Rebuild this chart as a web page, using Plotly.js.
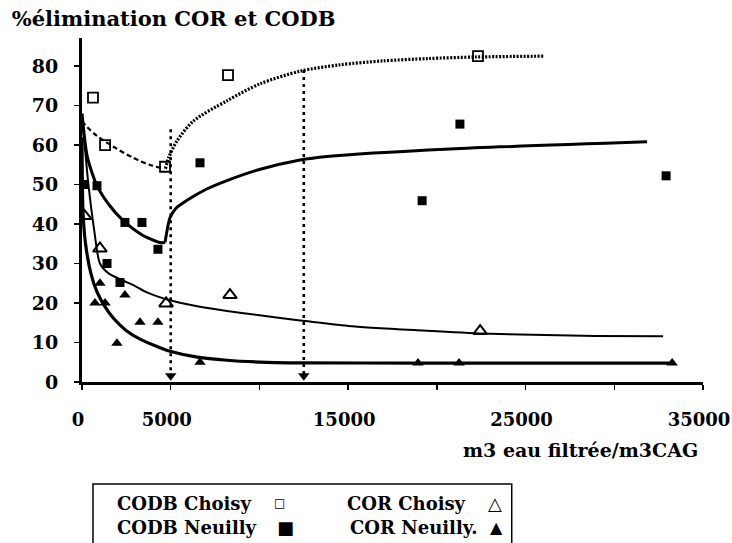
<!DOCTYPE html>
<html>
<head>
<meta charset="utf-8">
<script src="https://cdn.plot.ly/plotly-3.0.1.min.js"></script>
<style>html,body{margin:0;padding:0;background:#fff;}#chart{width:732px;height:543px;}</style>
</head>
<body>
<div id="chart"></div>
<script>
// ---------- data ----------
// measured points
var codbChoisyX = [620, 1300, 4680, 8230, 22320];
var codbChoisyY = [72, 60, 54.5, 77.7, 82.5];

var codbNeuillyX = [100, 845, 1410, 2140, 2420, 3380, 4280, 6650, 19170, 21300, 32920];
var codbNeuillyY = [50, 49.7, 30, 25.2, 40.4, 40.4, 33.6, 55.5, 45.9, 65.3, 52.2];

var corChoisyX = [150, 1010, 4740, 8340, 22440];
var corChoisyY = [42, 33.8, 19.9, 22, 12.9];

var corNeuillyX = [0, 730, 1010, 1300, 1970, 2420, 3270, 4280, 6650, 18940, 21250, 33260];
var corNeuillyY = [50, 20, 25, 20, 9.8, 22, 15.1, 15.1, 5, 4.8, 4.8, 4.8];

// trend curves
var codbChoisyFitAX = [0, 300, 845, 1800, 2870, 3800, 4600];
var codbChoisyFitAY = [66, 64.5, 62.3, 59.5, 56.8, 55, 54];
var codbChoisyFitBX = [4700, 4900, 5350, 6260, 8170, 10030, 12290, 14500, 16970, 19500, 22270, 26000];
var codbChoisyFitBY = [54, 57, 61, 66, 71.2, 75.5, 78.7, 80.3, 81.3, 81.9, 82.3, 82.5];

var codbNeuillyFitAX = [0, 300, 845, 1500, 2310, 3440, 4400, 4680];
var codbNeuillyFitAY = [68, 57, 49.7, 45, 40.9, 37.1, 35.3, 35.3];
var codbNeuillyFitBX = [4680, 4960, 5300, 5920, 7000, 8170, 10000, 12290, 13800, 20740, 31850];
var codbNeuillyFitBY = [35.3, 41.6, 44, 46, 48.8, 51, 53.8, 56.2, 57.1, 59, 60.8];

var corChoisyFitX = [0, 150, 338, 700, 1010, 1500, 2310, 3000, 3660, 4960, 6500, 8170, 10000, 12290, 15000, 18880, 22440, 28240, 32750];
var corChoisyFitY = [66, 60, 51, 38, 30, 27.5, 25.7, 24.3, 22.7, 20.7, 19.2, 18, 16.9, 15.6, 14.2, 13.1, 12.3, 11.7, 11.6];

var corNeuillyFitX = [0, 56, 200, 500, 845, 1300, 1800, 2500, 3300, 4400, 4960, 6500, 8170, 10000, 12290, 18940, 25000, 33260];
var corNeuillyFitY = [62, 43, 35, 27.5, 22.8, 19, 16, 13, 10.8, 8.7, 7.8, 6.3, 5.5, 5.05, 4.85, 4.8, 4.8, 4.8];

// vertical guide lines (breakthrough volumes)
var guideX = [5000, 12500];
var guideTop = [64, 79];
var guideBottom = [1.6, 1.6];

// axis ticks
var xTickVals = [0, 5000, 15000, 25000, 35000];
var xTickText = ['0', '5000', '15000', '25000', '35000'];
var yTickVals = [0, 10, 20, 30, 40, 50, 60, 70, 80];

// texts
var titleText = '%élimination COR et CODB';
var xTitleText = 'm3 eau filtrée/m3CAG';
var legendNames = ['CODB Choisy', 'CODB Neuilly', 'COR Choisy', 'COR Neuilly.'];
var legendSymbols = ['\u25A1', '\u25A0', '\u25B3', '\u25B2'];

// ---------- drawing ----------
var FONT = 'DejaVu Serif';
var BLACK = '#000';
var traces = [];

function curve(x, y, width, dash, smooth) {
  return {x: x, y: y, type: 'scatter', mode: 'lines', showlegend: false, hoverinfo: 'skip',
          line: {color: BLACK, width: width, dash: dash, shape: 'spline', smoothing: smooth}};
}
traces.push(curve(codbChoisyFitAX, codbChoisyFitAY, 2.2, '5px,3px', 0.8));
traces.push(curve(codbChoisyFitBX, codbChoisyFitBY, 3.2, '2px,1.5px', 0.8));
traces.push(curve(codbNeuillyFitAX, codbNeuillyFitAY, 3, 'solid', 0.7));
traces.push(curve(codbNeuillyFitBX, codbNeuillyFitBY, 3, 'solid', 0.7));
traces.push(curve(corChoisyFitX, corChoisyFitY, 2, 'solid', 0.7));
traces.push(curve(corNeuillyFitX, corNeuillyFitY, 3.2, 'solid', 0.7));

// guides
for (var i = 0; i < guideX.length; i++) {
  traces.push({x: [guideX[i], guideX[i]], y: [guideTop[i], guideBottom[i]], type: 'scatter', mode: 'lines',
    showlegend: false, hoverinfo: 'skip', line: {color: BLACK, width: 2.6, dash: '3px,4px'}});
}
traces.push({x: guideX, y: guideBottom, type: 'scatter', mode: 'markers', showlegend: false, hoverinfo: 'skip',
  marker: {symbol: 'triangle-down', size: 10, color: BLACK}});

// points
function pts(x, y, symbol, size, lw) {
  return {x: x, y: y, type: 'scatter', mode: 'markers', showlegend: false,
    marker: {symbol: symbol, size: size, color: BLACK, line: {color: BLACK, width: lw}}};
}
traces.push(pts(codbChoisyX, codbChoisyY, 'square-open', 10, 1.8));
traces.push(pts(codbNeuillyX, codbNeuillyY, 'square', 9, 0));
traces.push(pts(corChoisyX, corChoisyY, 'triangle-up-open', 12, 2));
traces.push(pts(corNeuillyX, corNeuillyY, 'triangle-up', 10, 0));

// legend box drawn as text + rectangle
var annotations = [];
var legX = [0.053, 0.053, 0.424, 0.428];
var legY = [-0.352, -0.422, -0.352, -0.422];
var symX = [0.318, 0.327, 0.665, 0.668];
var symSize = [12, 18, 18, 16];
for (var k = 0; k < 4; k++) {
  annotations.push({xref: 'paper', yref: 'paper', x: legX[k], y: legY[k], xanchor: 'left', yanchor: 'middle',
    text: legendNames[k], showarrow: false, font: {family: FONT, size: 18, color: BLACK, weight: 'bold'}});
  annotations.push({xref: 'paper', yref: 'paper', x: symX[k], y: legY[k], xanchor: 'center', yanchor: 'middle',
    text: legendSymbols[k], showarrow: false, font: {family: FONT, size: symSize[k], color: BLACK, weight: 'bold'}});
}
annotations.push({xref: 'paper', yref: 'paper', x: 0.995, y: -0.198, xanchor: 'right', yanchor: 'middle',
  text: xTitleText, showarrow: false, font: {family: FONT, size: 19, color: BLACK, weight: 'bold'}});

var layout = {
  width: 732, height: 543,
  margin: {l: 82, r: 29, t: 38, b: 161},
  paper_bgcolor: '#fff', plot_bgcolor: '#fff',
  showlegend: false,
  title: {text: titleText, x: 0.016, xanchor: 'left', y: 0.965, yanchor: 'middle', xref: 'container', yref: 'container',
          font: {family: FONT, size: 21, color: BLACK, weight: 'bold'}},
  xaxis: {range: [0, 35000], tickmode: 'array', tickvals: xTickVals, ticktext: xTickText,
          showgrid: false, zeroline: false, showline: true, linecolor: BLACK, linewidth: 3,
          ticks: 'outside', ticklen: 5, tickwidth: 1.5, tickcolor: BLACK, ticklabelstandoff: 14,
          ticklabeloverflow: 'allow', ticklabelshift: -4,
          minor: {dtick: 5000, ticks: 'outside', ticklen: 5, tickwidth: 1.5, tickcolor: BLACK},
          tickfont: {family: FONT, size: 18, color: BLACK, weight: 'bold'}, fixedrange: true},
  yaxis: {range: [0, 87.1], tickmode: 'array', tickvals: yTickVals,
          showgrid: false, zeroline: false, showline: true, linecolor: BLACK, linewidth: 3,
          ticks: 'outside', ticklen: 5, tickwidth: 1.5, tickcolor: BLACK, ticklabelstandoff: 12,
          tickfont: {family: FONT, size: 19, color: BLACK, weight: 'bold'}, fixedrange: true},
  annotations: annotations,
  shapes: [{type: 'path', xref: 'paper', yref: 'paper',
            path: 'M 0.0177 -0.48 L 0.0177 -0.2965 L 0.692 -0.2965 L 0.692 -0.48',
            line: {color: BLACK, width: 1.5}}]
};

Plotly.newPlot('chart', traces, layout, {staticPlot: true, displayModeBar: false});
</script>
</body>
</html>
